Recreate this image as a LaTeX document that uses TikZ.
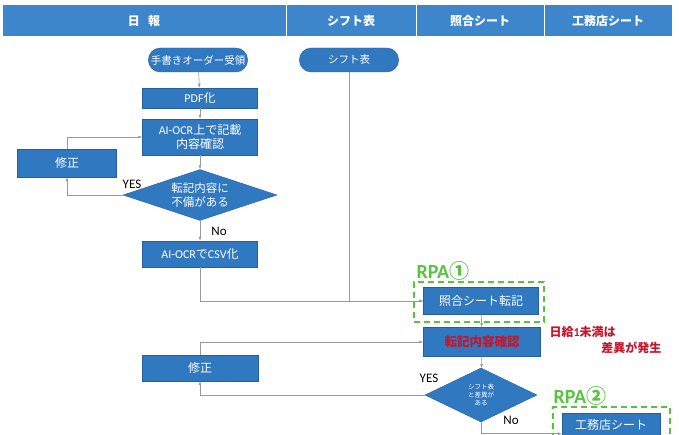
\documentclass[tikz,border=0pt]{standalone}
\usepackage{fontspec}
\setmainfont{Noto Sans CJK JP}
\newfontfamily\lat{Carlito}
\usepackage{tikz}
\usetikzlibrary{shapes.geometric,shapes.misc,arrows.meta}
\definecolor{headblue}{RGB}{62,134,204}
\definecolor{boxblue}{RGB}{48,120,192}
\definecolor{rpagreen}{RGB}{86,196,62}
\definecolor{notered}{RGB}{196,22,44}

\begin{document}
\begin{tikzpicture}[x=1pt, y=-1pt,
  head/.style={draw=white, line width=1pt, fill=headblue, minimum height=32pt, text=white, font=\bfseries\fontsize{12}{14}\selectfont},
  term/.style={rounded rectangle, draw=boxblue!80!black, line width=0.4pt, fill=boxblue, text=white, minimum width=106pt, minimum height=24pt, font=\fontsize{10.5}{12}\selectfont},
  proc/.style={rectangle, draw=boxblue!80!black, line width=0.4pt, fill=boxblue, text=white, align=center, inner sep=1pt, font=\fontsize{12}{13}\selectfont},
  dec/.style={diamond, aspect=3, draw=boxblue!80!black, line width=0.4pt, fill=boxblue, text=white, align=center, inner sep=0pt},
  flow/.style={draw=gray!80, line width=0.6pt, -{Latex[length=4pt,width=3pt]}},
  rpa/.style={draw=rpagreen, line width=1.8pt, dash pattern=on 6pt off 4pt, minimum width=130pt, minimum height=40pt},
  rpalabel/.style={text=rpagreen, font=\bfseries\fontsize{20}{22}\selectfont},
  yn/.style={font=\lat\fontsize{13}{14}\selectfont},
  note/.style={text=notered, font=\bfseries\fontsize{12}{14}\selectfont}
]
\useasboundingbox (0,0) rectangle (679,435);
\clip (0,0) rectangle (679,435);
% Header
\foreach \nm/\x/\w/\txt in {hnippo/144/284/日\hspace{0.7em}報, hshift/351/130/シフト表,
                             hshogo/480/128/照合シート, hkoumu/608/128/工務店シート} {
  \node[head, minimum width=\w pt] (\nm) at (\x, 21) {\txt};
}
% Nippo column
\node[term] (order) at (198, 60) {手書きオーダー受領};
\node[term] (shiftsrc) at (349, 60) {シフト表};
\node[proc, minimum width=115pt, minimum height=20pt] (pdf) at (200, 98) {{\lat PDF}化};
\node[proc, minimum width=115pt, minimum height=36pt, font=\fontsize{12}{14}\selectfont] (ocr) at (200, 137) {{\lat AI-OCR}上で記載\\内容確認};
\node[proc, minimum width=99pt, minimum height=28pt] (fix1) at (67, 163) {修正};
\node[dec, minimum width=154pt, minimum height=51pt, font=\fontsize{11.5}{14}\selectfont] (check1) at (200, 195) {転記内容に\\不備がある};
\node[proc, minimum width=115pt, minimum height=26pt] (csv) at (200, 254) {{\lat AI-OCR}で{\lat CSV}化};
% Shogo column
\node[rpa] (rpa1box) at (479, 302) {};
\node[rpalabel] (rpa1) at (443, 271) {{\lat RPA}①};
\node[proc, minimum width=115pt, minimum height=27pt] (copy) at (481, 301) {照合シート転記};
\node[proc, minimum width=117pt, minimum height=29pt, text=notered, font=\bfseries\fontsize{12.5}{14}\selectfont] (verify) at (482, 342) {転記内容確認};
\node[note, anchor=west] (note1) at (546, 332) {日給{\lat 1}未満は};
\node[note, anchor=east] (note2) at (665, 348) {差異が発生};
\node[dec, aspect=2, minimum width=112pt, minimum height=54pt, font=\fontsize{6.5}{8}\selectfont] (check2) at (481, 395) {シフト表\\と差異が\\ある};
\node[proc, minimum width=116pt, minimum height=26pt] (fix2) at (200, 368) {修正};
% Koumu column
\node[rpa, minimum width=117pt, minimum height=40pt] (rpa2box) at (611.5, 427) {};
\node[rpalabel] (rpa2) at (580, 396) {{\lat RPA}②};
\node[proc, minimum width=98pt, minimum height=24pt] (koumu) at (611, 425) {工務店シート};
% Labels
\node[yn] (yes1) at (132, 184) {YES};
\node[yn] (no1) at (219, 231) {No};
\node[yn] (yes2) at (429, 378) {YES};
\node[yn] (no2) at (511, 420) {No};
% Connectors
\draw[flow] (order) -- (pdf);
\draw[flow] (pdf) -- (ocr);
\draw[flow] (ocr) -- (check1);
\draw[flow] (check1) -- (csv);
\draw[flow] (check1.west) -| (fix1.south);
\draw[flow] (fix1.north) |- (ocr.west);
\draw[flow] (csv.south) |- (copy.west);
\draw[flow] (shiftsrc.south) |- (copy.west);
\draw[flow] (copy) -- (verify);
\draw[flow] (verify) -- (check2);
\draw[flow] (check2.west) -| (fix2.south);
\draw[flow] (fix2.north) |- (verify.west);
\draw[flow] (check2.south) |- (koumu.190);
\end{tikzpicture}
\end{document}
